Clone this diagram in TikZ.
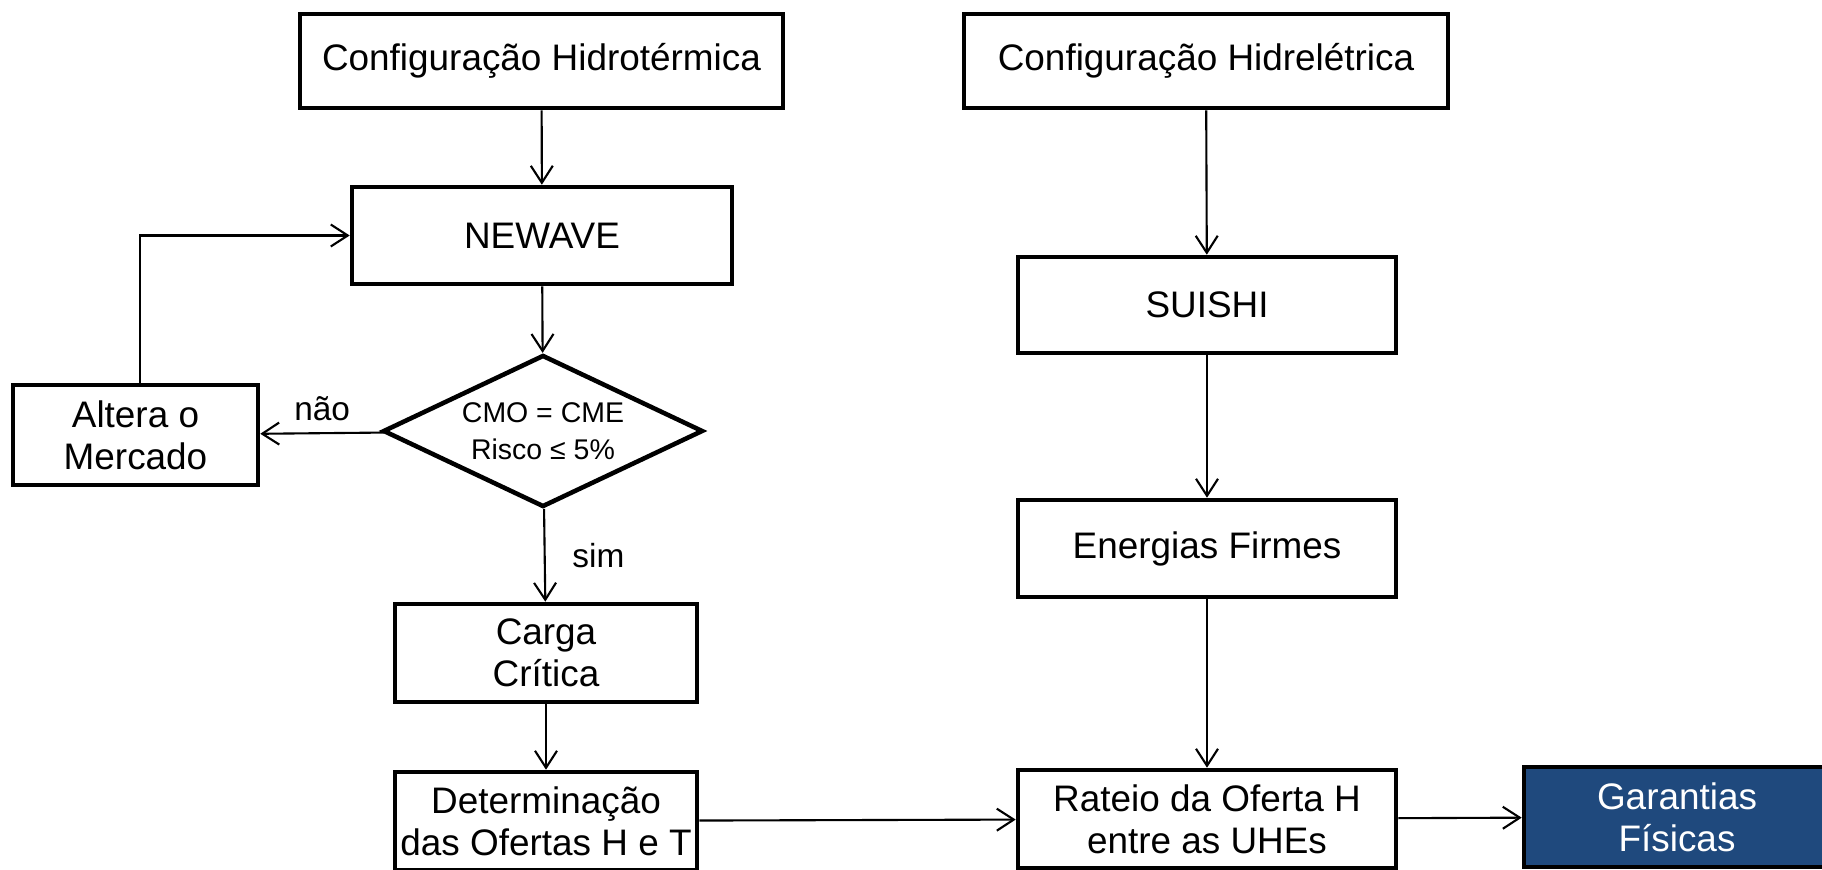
\documentclass[tikz,border=0pt]{standalone}
\usepackage{fontspec}
\setmainfont{Liberation Sans}
\usetikzlibrary{arrows.meta,shapes.geometric}
\definecolor{azulgf}{RGB}{31,73,125}
\tikzset{
	caixa/.style={draw, line width=1.3pt, inner sep=0pt, align=center, font=\fontsize{10.5}{12}\selectfont},
	decisao/.style={diamond, draw, line width=1.3pt, inner sep=0pt, aspect=2.1, align=center, font=\fontsize{8.1}{10.5}\selectfont},
	seta/.style={line width=0.6pt, -{Straight Barb[length=1.7mm,width=2.2mm]}},
	rotulo/.style={font=\fontsize{9.5}{11}\selectfont}
}

\begin{document}
\begin{tikzpicture}[]
	\clip (0,0) rectangle (18.22,-8.69);
	% lado hidrotermico
	\node[caixa, minimum width=4.83cm, minimum height=0.94cm] (cht) at (5.415,-0.61) {Configuração Hidrotérmica};
	\node[caixa, minimum width=3.80cm, minimum height=0.97cm] (nw) at (5.42,-2.355) {NEWAVE};
	\node[decisao, minimum width=3.2cm, minimum height=1.52cm] (dec) at (5.43,-4.31) {CMO = CME\\Risco ≤ 5\%};
	\node[caixa, minimum width=2.45cm, minimum height=1.0cm] (alt) at (1.355,-4.35) {Altera o\\Mercado};
	\node[caixa, minimum width=3.02cm, minimum height=0.98cm] (cc) at (5.46,-6.53) {Carga\\Crítica};
	\node[caixa, minimum width=3.02cm, minimum height=0.98cm] (det) at (5.46,-8.21) {Determinação\\das Ofertas H e T};
	% lado hidreletrico
	\node[caixa, minimum width=4.84cm, minimum height=0.94cm] (che) at (12.06,-0.61) {Configuração Hidrelétrica};
	\node[caixa, minimum width=3.78cm, minimum height=0.96cm] (su) at (12.07,-3.05) {SUISHI};
	\node[caixa, minimum width=3.78cm, minimum height=0.97cm] (ef) at (12.07,-5.485) {Energias Firmes};
	\node[caixa, minimum width=3.78cm, minimum height=0.98cm] (rat) at (12.07,-8.19) {Rateio da Oferta H\\entre as UHEs};
	\node[caixa, fill=azulgf, text=white, minimum width=3.06cm, minimum height=1.0cm] (gar) at (16.77,-8.17) {Garantias\\Físicas};

	\draw[seta] (cht) -- (nw);
	\draw[seta] (nw) -- (dec);
	\draw[seta] (dec) -- node[rotulo, right, xshift=0.15cm] {sim} (cc);
	\draw[seta] (dec) -- node[rotulo, above] {não} (alt);
	\draw[seta] ([xshift=0.045cm]alt.north) |- (nw);
	\draw[seta] (cc) -- (det);
	\draw[seta] (che) -- (su);
	\draw[seta] (su) -- (ef);
	\draw[seta] (ef) -- (rat);
	\draw[seta] (det) -- (rat);
	\draw[seta] (rat) -- (gar);
\end{tikzpicture}
\end{document}
